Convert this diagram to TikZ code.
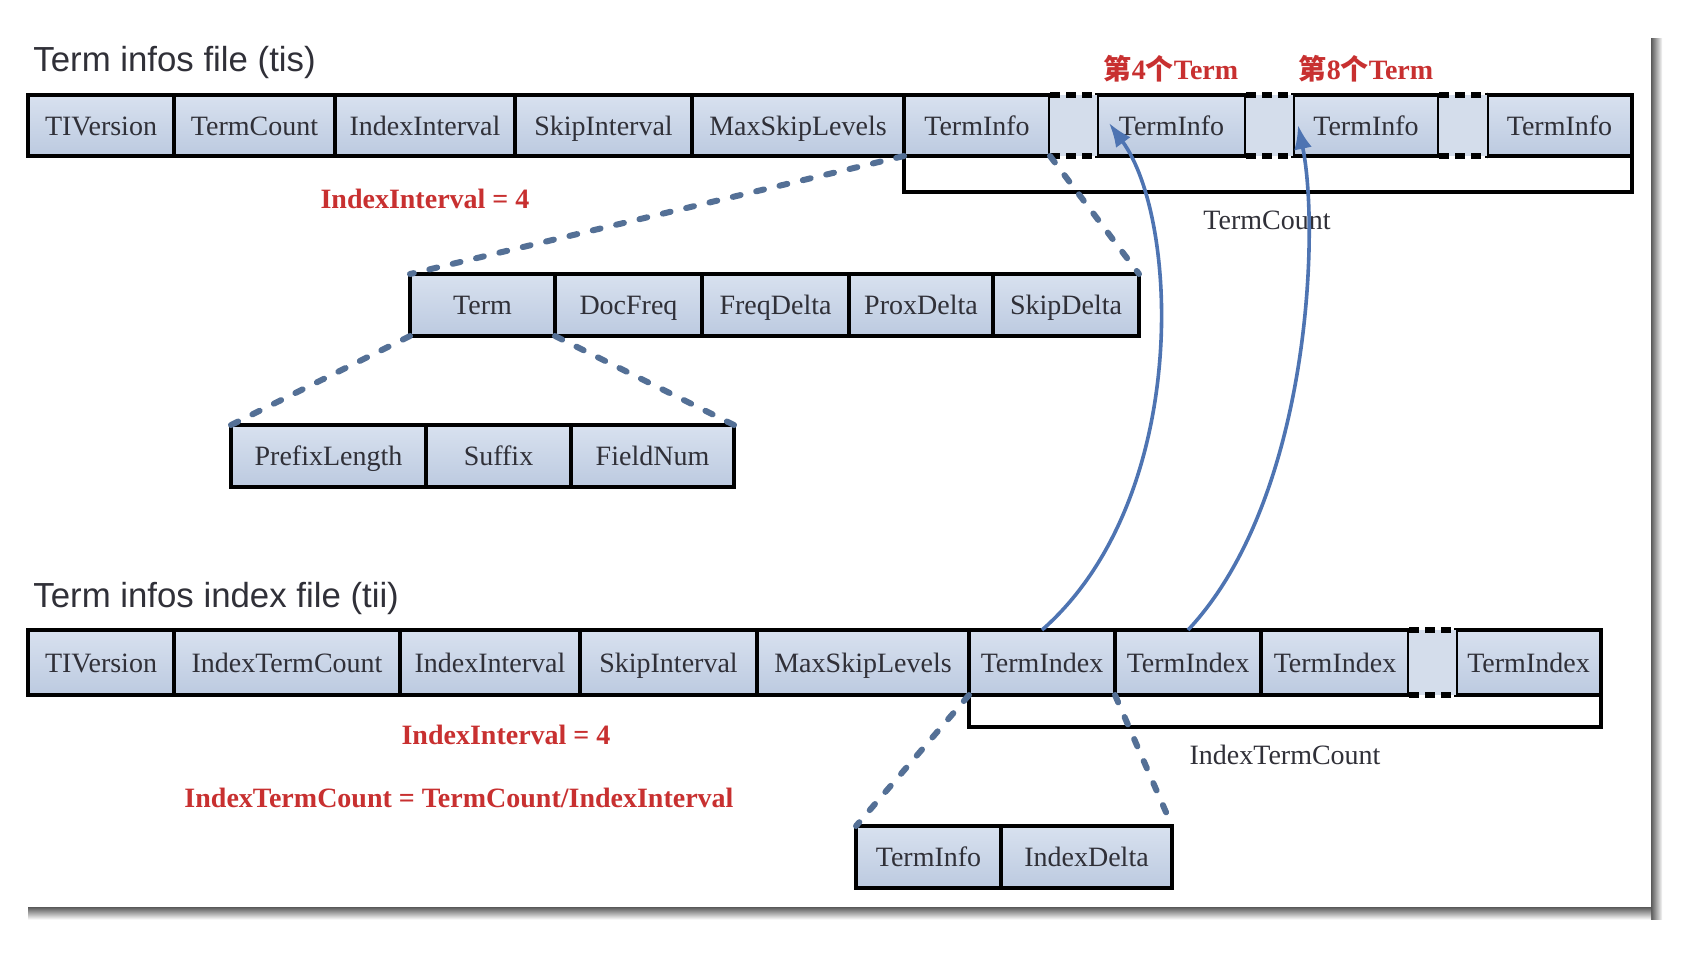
\documentclass[tikz,border=0pt]{standalone}
\usepackage{fontspec}
\setmainfont{Liberation Serif}
\newfontfamily\titlefont{Liberation Sans}
\newfontfamily\cjk{Noto Sans CJK SC}
\usetikzlibrary{backgrounds,arrows.meta,calc}

\definecolor{cellTop}{RGB}{216,225,239}
\definecolor{cellBot}{RGB}{188,202,224}
\definecolor{gapFill}{RGB}{212,221,235}
\definecolor{dashBlue}{RGB}{84,112,150}
\definecolor{arrowBlue}{RGB}{78,116,178}
\definecolor{noteRed}{RGB}{200,48,48}
\definecolor{inkGray}{RGB}{48,48,56}

\tikzset{
  cellbox/.style={draw=black, line width=2.4pt, top color=cellTop, bottom color=cellBot,
    inner sep=0pt, outer sep=0pt, text height=12.8pt, text depth=3.2pt,
    font=\fontsize{14}{16}\selectfont, text=inkGray},
  gapline/.style={draw=black, line width=2.6pt, dash pattern=on 5pt off 3pt},
  bracket/.style={draw=black, line width=2.4pt},
  zoomline/.style={draw=dashBlue, line width=3pt, line cap=round, dash pattern=on 4pt off 8pt},
  jump/.style={draw=arrowBlue, line width=1.8pt, -{Latex[length=12pt,width=9pt]}},
  heading/.style={font=\titlefont\fontsize{17.4}{20}\selectfont, text=inkGray, anchor=west, inner sep=0pt},
  note/.style={font=\bfseries\fontsize{14}{16}\selectfont, text=noteRed, inner sep=0pt},
  countlabel/.style={font=\fontsize{14}{16}\selectfont, text=inkGray, inner sep=0pt},
  rowshadow/.style={fill=black!10},
}

% one record field: name, left, right, top, bottom (px, y downwards), text
\newcommand\fcell[6]{%
  \pgfmathsetmacro\cw{(#3-#2)*0.5}\pgfmathsetmacro\ch{(#5-#4)*0.5}%
  \node[cellbox, minimum width=\cw pt, minimum height=\ch pt] (#1) at ({(#2+#3)/2},{(#4+#5)/2}) {#6};}
% elided run of fields between two boxes
\newcommand\skipgap[2]{%
  \fill[gapFill] (#1.north east) rectangle (#2.south west);
  \draw[gapline] (#1.north east) -- (#2.north west);
  \draw[gapline] (#1.south east) -- (#2.south west);}

\begin{document}
\begin{tikzpicture}[x=0.5pt,y=-0.5pt]
\useasboundingbox (0,0) rectangle (1706,970);
\fill[white] (0,0) rectangle (1706,970);

% page shadow
\shade[left color=black!65, right color=black!3] (1651,38) rectangle (1662,919);
\shade[top color=black!65, bottom color=black!3] (28,907) rectangle (1651,919);

% ---- Term infos file (tis)
\node[heading] (h1) at (33,62) {Term infos file (tis)};
\fcell{tiv1}{28}{174}{95}{156}{TIVersion}
\fcell{tc1}{174}{335}{95}{156}{TermCount}
\fcell{ii1}{335}{515}{95}{156}{IndexInterval}
\fcell{si1}{515}{692}{95}{156}{SkipInterval}
\fcell{msl1}{692}{904}{95}{156}{MaxSkipLevels}
\fcell{tinfo1}{904}{1050}{95}{156}{TermInfo}
\fcell{tinfo2}{1097}{1246}{95}{156}{TermInfo}
\fcell{tinfo3}{1293}{1439}{95}{156}{TermInfo}
\fcell{tinfo4}{1487}{1632}{95}{156}{TermInfo}
\skipgap{tinfo1}{tinfo2}
\skipgap{tinfo2}{tinfo3}
\skipgap{tinfo3}{tinfo4}
\draw[bracket] (tinfo1.south west) -- ++(0,36) -| (tinfo4.south east);
\node[countlabel] (tclabel) at (1267,220) {TermCount};
\node[note] (nth4) at (1171,69) {{\cjk 第}4{\cjk 个}Term};
\node[note] (nth8) at (1366,69) {{\cjk 第}8{\cjk 个}Term};
\node[note] (iv1) at (425,199) {IndexInterval = 4};

% TermInfo fields
\fcell{term}{410}{555}{274}{336}{Term}
\fcell{docfreq}{555}{702}{274}{336}{DocFreq}
\fcell{freqdelta}{702}{849}{274}{336}{FreqDelta}
\fcell{proxdelta}{849}{993}{274}{336}{ProxDelta}
\fcell{skipdelta}{993}{1139}{274}{336}{SkipDelta}

% Term fields
\fcell{prefix}{231}{426}{425}{487}{PrefixLength}
\fcell{suffix}{426}{571}{425}{487}{Suffix}
\fcell{fieldnum}{571}{734}{425}{487}{FieldNum}

\draw[zoomline] (msl1.south east) -- (term.north west);
\draw[zoomline] (tinfo1.south east) -- (skipdelta.north east);
\draw[zoomline] (term.south west) -- (prefix.north west);
\draw[zoomline] (term.south east) -- (fieldnum.north east);

% ---- Term infos index file (tii)
\node[heading] (h2) at (33,598) {Term infos index file (tii)};
\fcell{tiv2}{28}{174}{630}{695}{TIVersion}
\fcell{itc}{174}{400}{630}{695}{IndexTermCount}
\fcell{ii2}{400}{580}{630}{695}{IndexInterval}
\fcell{si2}{580}{757}{630}{695}{SkipInterval}
\fcell{msl2}{757}{969}{630}{695}{MaxSkipLevels}
\fcell{tidx1}{969}{1115}{630}{695}{TermIndex}
\fcell{tidx2}{1115}{1261}{630}{695}{TermIndex}
\fcell{tidx3}{1261}{1409}{630}{695}{TermIndex}
\fcell{tidx4}{1456}{1601}{630}{695}{TermIndex}
\skipgap{tidx3}{tidx4}
\draw[bracket] (tidx1.south west) -- ++(0,32) -| (tidx4.south east);
\node[countlabel] (itclabel) at (1285,755) {IndexTermCount};
\node[note] (iv2) at (506,735) {IndexInterval = 4};
\node[note] (ratio) at (459,798) {IndexTermCount = TermCount/IndexInterval};

% TermIndex fields
\fcell{tinfo5}{856}{1001}{826}{888}{TermInfo}
\fcell{idelta}{1001}{1172}{826}{888}{IndexDelta}

\draw[zoomline] (msl2.south east) -- (tinfo5.north west);
\draw[zoomline] (tidx1.south east) -- (idelta.north east);

% index entries point at every 4th term
\coordinate (hit4) at ($(tinfo2.south west)+(12,-33)$);
\coordinate (hit8) at ($(tinfo3.south west)+(5,-31)$);
\draw[jump] (tidx1.north) .. controls (1190,500) and (1180,220) .. (hit4);
\draw[jump] (tidx2.north) .. controls (1310,500) and (1320,230) .. (hit8);

% drop shadows under the records
\begin{scope}[on background layer]
  \fill[rowshadow] ($(tiv1.north west)+(4,10)$) rectangle ($(tinfo4.south east)+(4,10)$);
  \fill[rowshadow] ($(term.north west)+(4,10)$) rectangle ($(skipdelta.south east)+(4,10)$);
  \fill[rowshadow] ($(prefix.north west)+(4,10)$) rectangle ($(fieldnum.south east)+(4,10)$);
  \fill[rowshadow] ($(tiv2.north west)+(4,10)$) rectangle ($(tidx4.south east)+(4,10)$);
  \fill[rowshadow] ($(tinfo5.north west)+(4,10)$) rectangle ($(idelta.south east)+(4,10)$);
\end{scope}
\end{tikzpicture}
\end{document}
